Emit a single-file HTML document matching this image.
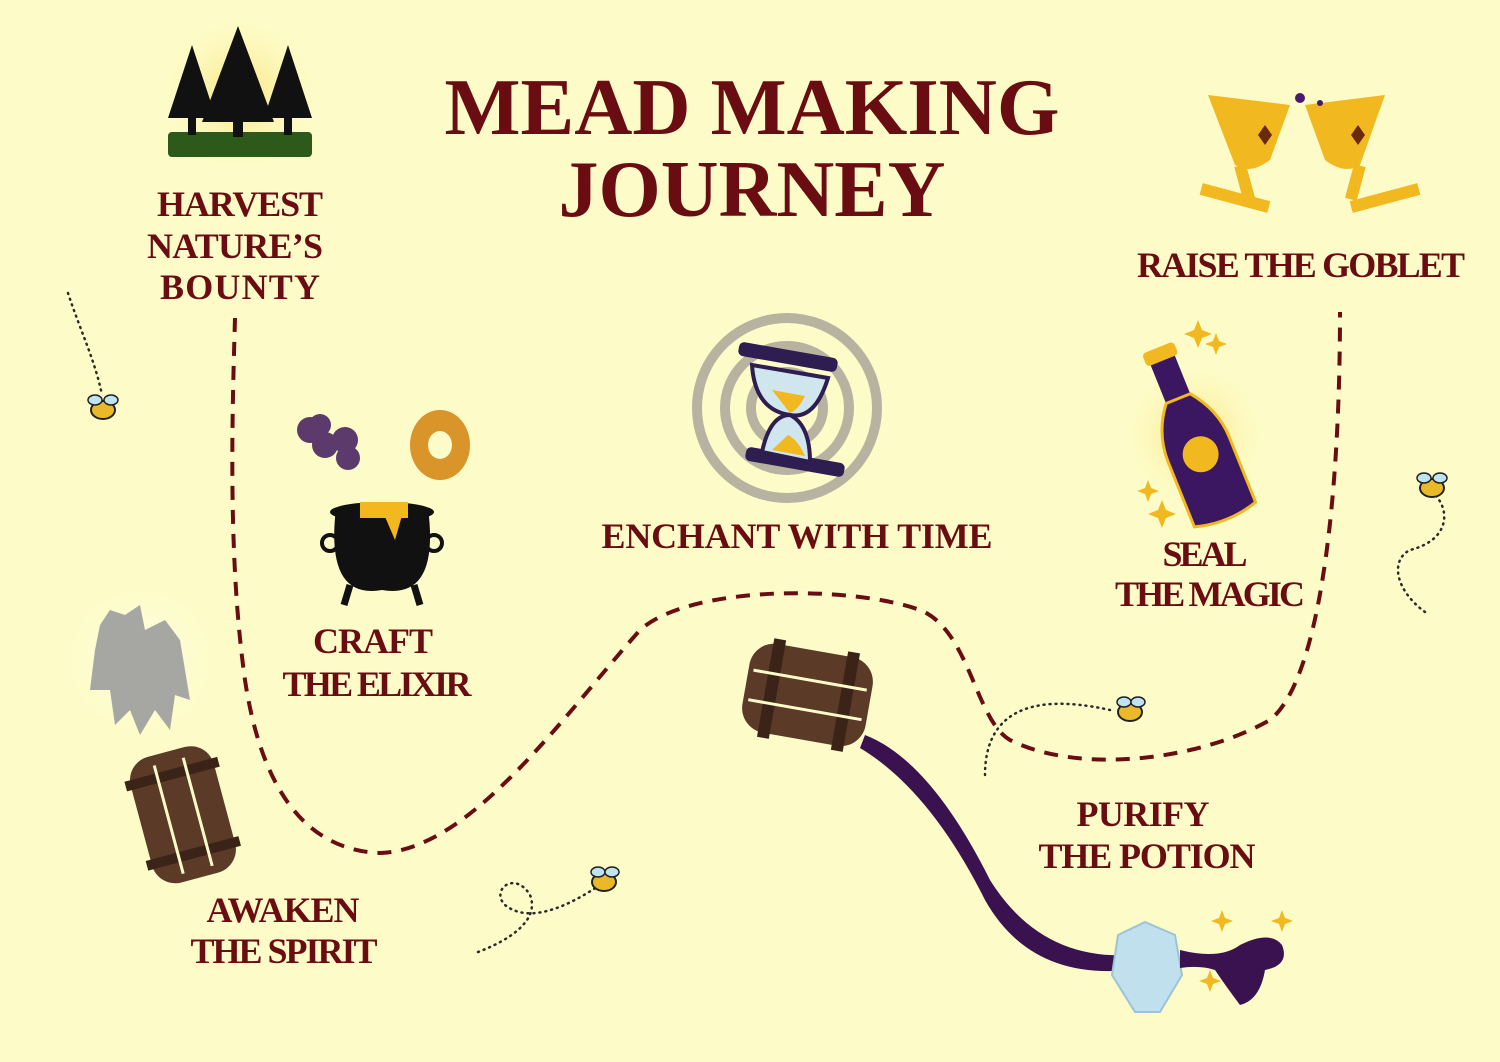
<!DOCTYPE html>
<html><head><meta charset="utf-8"><style>
html,body{margin:0;padding:0;background:#fdfcc9;}
svg{display:block}
text{font-family:"Liberation Serif",serif;fill:#6a0d12;font-weight:bold;text-anchor:middle;text-transform:uppercase}
</style></head><body>
<svg width="1500" height="1062" viewBox="0 0 1500 1062" xmlns="http://www.w3.org/2000/svg">
<defs>
<radialGradient id="glow"><stop offset="0" stop-color="#fbe27a"/><stop offset="1" stop-color="#fdfcc9" stop-opacity="0"/></radialGradient>
<radialGradient id="gray"><stop offset="0" stop-color="#ffffff"/><stop offset="1" stop-color="#fdfcc9" stop-opacity="0"/></radialGradient>
</defs>
<rect width="1500" height="1062" fill="#fdfcc9"/>

<text x="752" y="134" font-size="80" textLength="615" lengthAdjust="spacingAndGlyphs">MEAD MAKING</text>
<text x="752" y="216" font-size="80" textLength="387" lengthAdjust="spacingAndGlyphs">JOURNEY</text>

<path d="M235 318 C232 420 228 560 245 680 C260 780 300 850 380 853 C470 850 560 720 640 630 C690 585 850 585 920 610 C970 630 975 720 1010 740 C1080 775 1200 760 1270 720 C1320 680 1340 500 1340 312" fill="none" stroke="#6a0d12" stroke-width="4" stroke-dasharray="14 10"/>

<g fill="none" stroke="#2a2a2a" stroke-width="2.5" stroke-dasharray="1 5" stroke-linecap="round">
<path d="M68 293 C80 330 95 360 102 395"/>
<path d="M1425 612 C1395 590 1390 560 1410 550 C1450 540 1450 510 1435 495"/>
<path d="M985 775 C985 720 1020 690 1110 710"/>
<path d="M478 952 C510 940 540 920 530 895 C515 870 490 890 505 905 C530 925 570 905 600 885"/>
</g>
<g>
<g transform="translate(103,410)"><ellipse rx="12" ry="9" fill="#e9b92a" stroke="#222" stroke-width="2"/><ellipse cx="-8" cy="-10" rx="7" ry="5" fill="#bfe3f0" stroke="#222" stroke-width="1.5"/><ellipse cx="8" cy="-10" rx="7" ry="5" fill="#bfe3f0" stroke="#222" stroke-width="1.5"/></g>
<g transform="translate(1432,488)"><ellipse rx="12" ry="9" fill="#e9b92a" stroke="#222" stroke-width="2"/><ellipse cx="-8" cy="-10" rx="7" ry="5" fill="#bfe3f0" stroke="#222" stroke-width="1.5"/><ellipse cx="8" cy="-10" rx="7" ry="5" fill="#bfe3f0" stroke="#222" stroke-width="1.5"/></g>
<g transform="translate(1130,712)"><ellipse rx="12" ry="9" fill="#e9b92a" stroke="#222" stroke-width="2"/><ellipse cx="-6" cy="-10" rx="7" ry="5" fill="#bfe3f0" stroke="#222" stroke-width="1.5"/><ellipse cx="8" cy="-10" rx="7" ry="5" fill="#bfe3f0" stroke="#222" stroke-width="1.5"/></g>
<g transform="translate(604,882)"><ellipse rx="12" ry="9" fill="#e9b92a" stroke="#222" stroke-width="2"/><ellipse cx="-6" cy="-10" rx="7" ry="5" fill="#bfe3f0" stroke="#222" stroke-width="1.5"/><ellipse cx="8" cy="-10" rx="7" ry="5" fill="#bfe3f0" stroke="#222" stroke-width="1.5"/></g>
</g>

<circle cx="240" cy="95" r="90" fill="url(#glow)"/>
<rect x="168" y="132" width="144" height="25" rx="4" fill="#2d5a1b"/>
<g fill="#111">
<polygon points="192,45 168,118 216,118"/><rect x="188" y="110" width="8" height="25"/>
<polygon points="288,45 264,118 312,118"/><rect x="284" y="110" width="8" height="25"/>
<polygon points="238,26 202,122 274,122"/><rect x="233" y="115" width="10" height="22"/>
</g>

<g fill="#f2b81f">
<path d="M1208 95 L1290 105 L1270 160 Q1250 175 1235 165 Z"/>
<rect x="1238" y="165" width="12" height="35" transform="rotate(-15 1244 180)"/>
<rect x="1200" y="192" width="70" height="12" transform="rotate(15 1235 198)"/>
<path d="M1385 95 L1305 105 L1325 160 Q1345 175 1360 165 Z"/>
<rect x="1350" y="165" width="12" height="35" transform="rotate(15 1356 180)"/>
<rect x="1350" y="192" width="70" height="12" transform="rotate(-15 1385 198)"/>
</g>
<polygon points="1265,125 1272,135 1265,145 1258,135" fill="#6a2a10"/>
<polygon points="1358,125 1365,135 1358,145 1351,135" fill="#6a2a10"/>
<circle cx="1300" cy="98" r="5" fill="#4a1a6a"/><circle cx="1320" cy="103" r="3" fill="#4a1a6a"/>

<g fill="none" stroke="#b8b2a0" stroke-width="10">
<circle cx="787" cy="408" r="90"/><circle cx="787" cy="408" r="62"/><circle cx="787" cy="408" r="36"/>
</g>
<rect x="738" y="350" width="100" height="14" rx="5" fill="#2e1d50" transform="rotate(10 788 357)"/>
<rect x="745" y="455" width="100" height="14" rx="5" fill="#2e1d50" transform="rotate(10 795 462)"/>
<path d="M752 365 L828 378 Q815 420 790 415 Q810 425 810 462 L762 452 Q770 415 790 415 Q755 410 752 365Z" fill="#cfe6ee" stroke="#2e1d50" stroke-width="4"/>
<path d="M772 390 L805 396 Q798 410 790 413Z M772 450 L805 456 Q798 440 788 435Z" fill="#f2b81f"/>

<circle cx="1195" cy="435" r="80" fill="url(#glow)"/>
<g transform="rotate(-22 1195 435)">
<rect x="1180" y="345" width="26" height="50" fill="#3a1760"/>
<rect x="1176" y="340" width="34" height="14" rx="4" fill="#f2b81f"/>
<path d="M1180 395 Q1160 420 1160 450 L1160 520 Q1193 530 1226 520 L1226 450 Q1226 420 1206 395Z" fill="#3a1760" stroke="#f2b81f" stroke-width="3"/>
<circle cx="1193" cy="455" r="18" fill="#f2b81f"/>
</g>
<g fill="#f2b81f">
<path d="M1198 320 l4 10 10 4 -10 4 -4 10 -4 -10 -10 -4 10 -4z"/>
<path d="M1216 333 l3 8 8 3 -8 3 -3 8 -3 -8 -8 -3 8 -3z"/>
<path d="M1148 480 l3 8 8 3 -8 3 -3 8 -3 -8 -8 -3 8 -3z"/>
<path d="M1162 500 l4 10 10 4 -10 4 -4 10 -4 -10 -10 -4 10 -4z"/>
</g>

<g fill="#5c3a6b"><circle cx="310" cy="430" r="13"/><circle cx="325" cy="445" r="13"/><circle cx="345" cy="440" r="13"/><circle cx="348" cy="458" r="12"/><circle cx="320" cy="425" r="11"/></g>
<g fill="#d9942a"><ellipse cx="440" cy="445" rx="30" ry="35"/></g>
<ellipse cx="440" cy="445" rx="12" ry="14" fill="#fdfcc9"/>
<path d="M336 508 Q325 600 382 590 Q440 600 428 508Z" fill="#111"/>
<ellipse cx="382" cy="512" rx="52" ry="10" fill="#111"/>
<rect x="360" y="502" width="48" height="16" fill="#f2b81f"/>
<path d="M380 505 L395 540 L405 505Z" fill="#f2b81f"/>
<circle cx="330" cy="543" r="8" fill="none" stroke="#111" stroke-width="4"/><circle cx="434" cy="543" r="8" fill="none" stroke="#111" stroke-width="4"/>
<path d="M350 585 l-6 20 M414 585 l6 20" stroke="#111" stroke-width="7"/>

<circle cx="140" cy="660" r="75" fill="url(#gray)"/>
<path d="M100 625 L110 610 L125 615 L140 605 L145 630 L165 620 L180 640 L190 700 L175 695 L170 730 L155 710 L140 735 L130 710 L115 725 L110 690 L90 690 L95 650Z" fill="#a6a6a2"/>
<g transform="rotate(-15 182 815)">
<rect x="140" y="750" width="86" height="130" rx="24" fill="#5c3a28"/>
<rect x="135" y="768" width="96" height="10" fill="#3b2417"/><rect x="135" y="850" width="96" height="10" fill="#3b2417"/>
<line x1="168" y1="760" x2="168" y2="872" stroke="#fdfcc9" stroke-width="3"/><line x1="198" y1="760" x2="198" y2="872" stroke="#fdfcc9" stroke-width="3"/>
</g>

<path d="M865 735 Q930 760 990 880 Q1040 960 1130 955 L1130 970 Q1030 980 985 900 Q930 790 860 748Z" fill="#3a1250"/>
<g transform="rotate(10 808 695)">
<rect x="745" y="650" width="125" height="90" rx="25" fill="#5c3a28"/>
<rect x="765" y="645" width="12" height="100" fill="#3b2417"/><rect x="840" y="645" width="12" height="100" fill="#3b2417"/>
<line x1="750" y1="680" x2="865" y2="680" stroke="#fdfcc9" stroke-width="3"/><line x1="750" y1="710" x2="865" y2="710" stroke="#fdfcc9" stroke-width="3"/>
</g>
<polygon points="1145,922 1175,935 1182,975 1160,1012 1135,1012 1112,975 1118,935" fill="#bfe0ec" stroke="#9cc4d6" stroke-width="2"/>
<path d="M1180 950 Q1220 960 1240 945 Q1270 930 1282 945 Q1290 965 1265 970 Q1260 1000 1240 1005 Q1225 985 1215 970 Q1200 965 1180 968Z" fill="#3a1250"/>
<g fill="#f2b81f"><path d="M1222 910 l3 8 8 3 -8 3 -3 8 -3 -8 -8 -3 8 -3z"/><path d="M1282 910 l3 8 8 3 -8 3 -3 8 -3 -8 -8 -3 8 -3z"/><path d="M1210 970 l3 8 8 3 -8 3 -3 8 -3 -8 -8 -3 8 -3z"/></g>

<g font-size="36" lengthAdjust="spacingAndGlyphs">
<text x="240" y="216" textLength="166">Harvest</text>
<text x="235" y="258" textLength="176">Nature’s</text>
<text x="240" y="299" textLength="160">Bounty</text>
<text x="1301" y="277" textLength="328">Raise the Goblet</text>
<text x="797" y="548" textLength="391">Enchant with Time</text>
<text x="1205" y="566" textLength="85">Seal</text>
<text x="1210" y="606" textLength="190">the Magic</text>
<text x="373" y="653" textLength="120">Craft</text>
<text x="377" y="696" textLength="189">the Elixir</text>
<text x="1143" y="826" textLength="133">Purify</text>
<text x="1147" y="868" textLength="217">the Potion</text>
<text x="283" y="922" textLength="153">Awaken</text>
<text x="284" y="963" textLength="187">the Spirit</text>
</g>
</svg>
</body></html>
